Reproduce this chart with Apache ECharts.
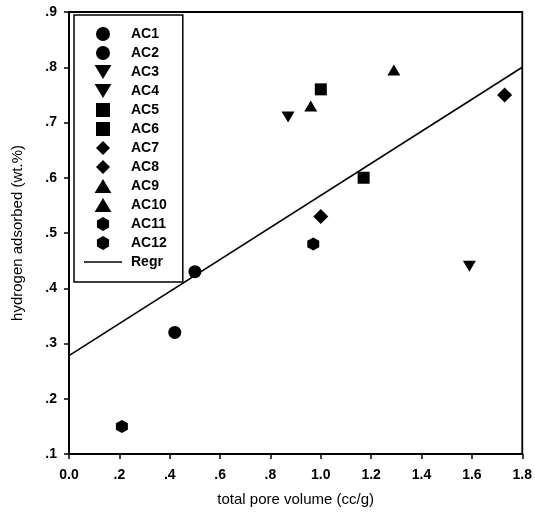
<!DOCTYPE html>
<html>
<head>
<meta charset="utf-8">
<script src="https://cdn.jsdelivr.net/npm/echarts@6/dist/echarts.min.js"></script>
<style>
html, body { margin: 0; padding: 0; background: #fff; }
#myChart { width: 535px; height: 520px; }
</style>
</head>
<body>
<div id="myChart"></div>
<script>
// one point per sample
const sampleNames = ['AC1', 'AC2', 'AC3', 'AC4', 'AC5', 'AC6', 'AC7', 'AC8', 'AC9', 'AC10', 'AC11', 'AC12']
const poreVolume = [0.42, 0.50, 0.87, 1.59, 1.00, 1.17, 1.00, 1.73, 0.96, 1.29, 0.21, 0.97]
const hydrogenAdsorbed = [0.32, 0.43, 0.71, 0.44, 0.76, 0.60, 0.53, 0.75, 0.73, 0.795, 0.15, 0.48]
// regression line end points
const regrX = [0.0, 1.8]
const regrY = [0.278, 0.80]

// marker shapes (paths so the legend keeps their aspect)
const circle = 'circle'
const triDown = 'path://M0,0 L12,0 L6,10 Z'
const triUp = 'path://M6,0 L12,10 L0,10 Z'
const square = 'path://M0,0 L10,0 L10,10 L0,10 Z'
const diamond = 'path://M5,0 L10,5 L5,10 L0,5 Z'
const hexagon = 'path://M5,0 L9.33,2.5 L9.33,7.5 L5,10 L0.67,7.5 L0.67,2.5 Z'
const symbols = [circle, circle, triDown, triDown, square, square, diamond, diamond, triUp, triUp, hexagon, hexagon]
const sizes = [13, 13, [13, 11], [13, 11], 12, 12, 15, 15, [13, 11], [13, 11], [12, 13], [12, 13]]

let series = []
for (let i = 0; i < sampleNames.length; i++) {
  series.push({
    name: sampleNames[i],
    type: 'scatter',
    symbol: symbols[i],
    symbolSize: sizes[i],
    itemStyle: { color: '#000', opacity: 1 },
    data: [[poreVolume[i], hydrogenAdsorbed[i]]]
  })
}
series.push({
  name: 'Regr',
  type: 'line',
  symbol: 'none',
  itemStyle: { color: '#000' },
  lineStyle: { color: '#000', width: 1.6 },
  data: regrX.map((x, i) => [x, regrY[i]])
})

function dotLabel(v) {
  if (Math.abs(v) < 1e-9) return '0.0'
  let s = v.toFixed(1)
  return v < 1 ? s.substring(1) : s
}

let legendData = sampleNames.map(n => ({ name: n }))
legendData.push({ name: 'Regr', icon: 'path://M0,0 L40,0 L40,1.6 L0,1.6 Z' })

let myChart = echarts.init(document.getElementById('myChart'))
myChart.setOption({
  animation: false,
  textStyle: { fontFamily: 'Liberation Sans', color: '#000' },
  grid: {
    left: 69, right: 11, top: 12, bottom: 66,
    show: true, borderColor: '#000', borderWidth: 1.8
  },
  legend: {
    orient: 'vertical',
    left: 74,
    top: 15,
    padding: [12, 16, 13, 10],
    itemWidth: 38,
    itemHeight: 14,
    itemGap: 5,
    borderColor: '#000',
    borderWidth: 1.5,
    textStyle: { fontFamily: 'Liberation Sans', fontSize: 14, fontWeight: 'bold', color: '#000', padding: [0, 0, 0, 4] },
    data: legendData
  },
  xAxis: {
    type: 'value',
    min: 0,
    max: 1.8,
    interval: 0.2,
    name: 'total pore volume (cc/g)',
    nameLocation: 'middle',
    nameGap: 38,
    nameTextStyle: { fontSize: 15, color: '#000' },
    axisLine: { lineStyle: { color: '#000', width: 1.8 } },
    axisTick: { length: 5, lineStyle: { color: '#000', width: 1.5 } },
    axisLabel: { margin: 14, fontSize: 14, fontWeight: 'bold', color: '#000', formatter: dotLabel },
    splitLine: { show: false }
  },
  yAxis: {
    type: 'value',
    min: 0.1,
    max: 0.9,
    interval: 0.1,
    name: 'hydrogen adsorbed (wt.%)',
    nameLocation: 'middle',
    nameGap: 44,
    nameTextStyle: { fontSize: 15, color: '#000' },
    axisLine: { lineStyle: { color: '#000', width: 1.8 } },
    axisTick: { length: 5, lineStyle: { color: '#000', width: 1.5 } },
    axisLabel: { margin: 12, fontSize: 14, fontWeight: 'bold', color: '#000', formatter: dotLabel },
    splitLine: { show: false }
  },
  series: series
})
</script>
</body>
</html>
